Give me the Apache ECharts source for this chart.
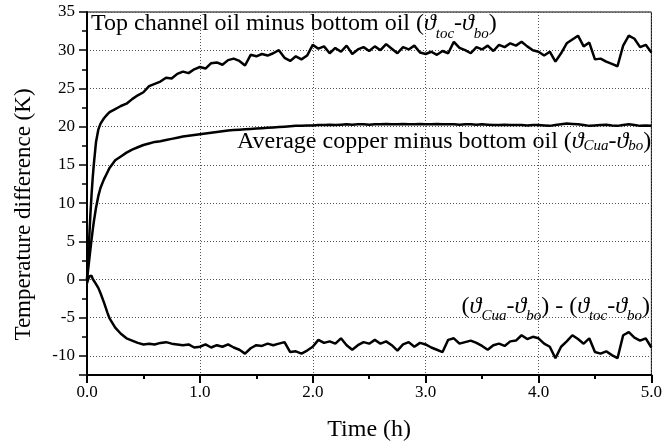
<!DOCTYPE html>
<html>
<head>
<meta charset="utf-8">
<script src="https://cdn.jsdelivr.net/npm/echarts@6/dist/echarts.min.js"></script>
<style>
  html, body { margin: 0; padding: 0; background: #fff; }
  #chart { width: 665px; height: 447px; }
</style>
</head>
<body>
<div id="chart"></div>
<script>
// Sample times (h)
const times = [
  0, 0.01, 0.02, 0.03, 0.04, 0.05, 0.06, 0.08, 0.10, 0.12, 0.15, 0.18, 0.20,
  0.25, 0.30, 0.35, 0.40, 0.45, 0.50, 0.55, 0.60, 0.65, 0.70, 0.75, 0.80, 0.85, 0.90, 0.95, 1.00,
  1.05, 1.10, 1.15, 1.20, 1.25, 1.30, 1.35, 1.40, 1.45, 1.50, 1.55, 1.60, 1.65, 1.70, 1.75, 1.80, 1.85, 1.90, 1.95, 2.00,
  2.05, 2.10, 2.15, 2.20, 2.25, 2.30, 2.35, 2.40, 2.45, 2.50, 2.55, 2.60, 2.65, 2.70, 2.75, 2.80, 2.85, 2.90, 2.95, 3.00,
  3.05, 3.10, 3.15, 3.20, 3.25, 3.30, 3.35, 3.40, 3.45, 3.50, 3.55, 3.60, 3.65, 3.70, 3.75, 3.80, 3.85, 3.90, 3.95, 4.00,
  4.05, 4.10, 4.15, 4.20, 4.25, 4.30, 4.35, 4.40, 4.45, 4.50, 4.55, 4.60, 4.65, 4.70, 4.75, 4.80, 4.85, 4.90, 4.95, 5.00
];

// Top channel oil minus bottom oil (K)
const topOilRise = [
  0, 2.5, 5.5, 8.5, 11.0, 13.2, 15.0, 18.0, 19.6, 20.4, 21.1, 21.6, 21.9,
  22.3, 22.7, 23.0, 23.6, 24.1, 24.5, 25.3, 25.6, 25.9, 26.4, 26.3, 26.9, 27.2, 27.0, 27.5, 27.8,
  27.6, 28.3, 28.4, 28.1, 28.7, 28.9, 28.6, 28.0, 29.4, 29.2, 29.5, 29.3, 29.6, 30.0, 29.0, 28.6, 29.2, 28.8, 29.3, 30.7,
  30.2, 30.5, 29.6, 30.3, 29.8, 30.6, 29.5, 30.1, 30.4, 29.9, 30.5, 30.0, 30.8, 30.2, 29.6, 30.4, 30.1, 30.6, 29.7, 29.5,
  29.8, 29.4, 29.9, 29.6, 31.1, 30.3, 30.0, 29.6, 30.4, 30.1, 30.6, 29.9, 30.7, 30.4, 30.9, 30.6, 31.1, 30.5, 30.0, 29.8,
  29.3, 29.8, 28.5, 29.6, 30.9, 31.4, 31.9, 30.5, 31.0, 28.8, 28.9, 28.5, 28.2, 27.9, 30.6, 31.9, 31.5, 30.4, 30.7, 29.7
];

// Average copper minus bottom oil (K)
const copperRise = [
  0, 1.3, 2.6, 3.9, 5.2, 6.4, 7.5, 9.4, 10.9, 12.0, 13.1, 14.0, 14.6,
  15.6, 16.1, 16.6, 17.0, 17.3, 17.6, 17.8, 18.0, 18.1, 18.25, 18.4, 18.55, 18.7, 18.8, 18.9, 19.0,
  19.1, 19.2, 19.3, 19.4, 19.5, 19.55, 19.6, 19.65, 19.7, 19.75, 19.8, 19.85, 19.9, 19.95, 20.0, 20.05, 20.1, 20.1, 20.15, 20.15,
  20.2, 20.2, 20.25, 20.2, 20.25, 20.3, 20.25, 20.3, 20.3, 20.25, 20.3, 20.3, 20.35, 20.3, 20.3, 20.35, 20.3, 20.3, 20.35, 20.3,
  20.3, 20.35, 20.3, 20.3, 20.3, 20.25, 20.3, 20.3, 20.25, 20.3, 20.25, 20.2, 20.2, 20.25, 20.2, 20.2, 20.2, 20.15, 20.2, 20.2,
  20.15, 20.1, 20.2, 20.3, 20.4, 20.35, 20.3, 20.2, 20.1, 20.15, 20.2, 20.25, 20.15, 20.1, 20.2, 20.3, 20.2, 20.1, 20.15, 20.1
];

// Copper rise minus top oil rise (K)
const copperMinusTop = [
  -0.5, 0.0, 0.4, 0.6, 0.5, 0.1, -0.1, -0.6, -1.1, -1.8, -3.0, -4.3, -5.1,
  -6.3, -7.1, -7.7, -8.0, -8.3, -8.5, -8.4, -8.5, -8.3, -8.2, -8.4, -8.5, -8.6, -8.5, -8.9, -8.8,
  -8.5, -8.9, -8.6, -8.8, -8.5, -8.9, -9.2, -9.7, -9.0, -8.6, -8.7, -8.4, -8.6, -8.4, -8.2, -9.5, -9.4, -9.7, -9.3, -8.8,
  -7.9, -8.3, -8.1, -8.4, -7.7, -8.6, -9.2, -8.6, -8.2, -8.4, -7.9, -8.4, -8.1, -8.6, -9.3, -8.5, -8.2, -8.8, -8.3, -8.5,
  -8.9, -9.2, -9.5, -7.9, -7.7, -8.4, -8.2, -8.0, -8.3, -8.7, -9.2, -8.6, -8.4, -8.7, -8.1, -8.0, -7.3, -7.8, -7.5, -7.7,
  -8.4, -8.8, -10.3, -8.8, -8.1, -7.3, -7.8, -8.4, -7.7, -9.5, -9.7, -9.4, -9.9, -10.3, -7.3, -6.9, -7.6, -8.0, -7.7, -8.9
];

// Axis ranges and steps
const xRange = [0, 5];
const xStep = 1;
const yRange = [-12.5, 35];
const yMinorStep = 2.5;
const yLabelStep = 5;

const SERIF = '"Liberation Serif", "Times New Roman", "DejaVu Serif", serif';

const pairs = arr => times.map((t, i) => [t, arr[i]]);

const curve = (name, arr) => ({
  name,
  type: 'line',
  data: pairs(arr),
  showSymbol: false,
  symbol: 'none',
  smooth: false,
  lineStyle: { color: '#000', width: 2.5 },
  z: 3
});

// Rich text styles for the annotation formulas
function richFor(subShift) {
  return {
    m: { fontFamily: SERIF, fontSize: 24, color: '#000', lineHeight: 28 },
    g: { fontFamily: SERIF, fontSize: 24, fontStyle: 'italic', color: '#000', lineHeight: 28 },
    s: { fontFamily: SERIF, fontSize: 15, fontStyle: 'italic', color: '#000', lineHeight: 15,
         padding: [subShift * 2, 0, 0, 0] }
  };
}

const chart = echarts.init(document.getElementById('chart'), null, { renderer: 'canvas' });

chart.setOption({
  animation: false,
  backgroundColor: '#fff',
  grid: {
    left: 87, right: 10, top: 12, bottom: 68.5,
    show: true, borderColor: '#000', borderWidth: 1, backgroundColor: 'transparent'
  },
  xAxis: {
    type: 'value',
    min: xRange[0], max: xRange[1], interval: xStep,
    name: 'Time (h)',
    nameLocation: 'middle',
    nameGap: 43,
    nameTextStyle: { fontFamily: SERIF, fontSize: 24, color: '#000' },
    axisLine: { show: true, onZero: false, lineStyle: { color: '#000', width: 2 } },
    axisTick: { show: true, inside: false, length: 8, lineStyle: { color: '#000', width: 2 } },
    minorTick: { show: true, splitNumber: 2, length: 4, lineStyle: { color: '#000', width: 2 } },
    axisLabel: {
      fontFamily: SERIF, fontSize: 17, color: '#000', margin: 9,
      formatter: v => v.toFixed(1)
    },
    splitLine: { show: true, lineStyle: { color: '#555', type: [1, 2], width: 1 } }
  },
  yAxis: [
    {
      type: 'value',
      position: 'left',
      min: yRange[0], max: yRange[1], splitNumber: 10,
      name: 'Temperature difference (K)',
      nameLocation: 'middle',
      nameGap: 52,
      nameRotate: 90,
      nameTextStyle: { fontFamily: SERIF, fontSize: 23, color: '#000', padding: [0, 42, 0, 0] },
      axisLine: { show: true, onZero: false, lineStyle: { color: '#000', width: 2 } },
      axisTick: { show: true, inside: false, length: 8, lineStyle: { color: '#000', width: 1.5 } },
      axisLabel: {
        fontFamily: SERIF, fontSize: 17, color: '#000', margin: 12,
        formatter: v => (Math.abs(v % yLabelStep) < 1e-9 ? String(v) : '')
      },
      splitLine: { show: true, lineStyle: { color: '#555', type: [1, 2], width: 1 } }
    },
    {
      // minor ticks every 2.5 K
      type: 'value',
      position: 'left',
      min: yRange[0], max: yRange[1], interval: yMinorStep,
      axisLine: { show: false },
      axisTick: { show: true, inside: false, length: 5, lineStyle: { color: '#000', width: 1.5 } },
      axisLabel: { show: false },
      splitLine: { show: false }
    }
  ],
  series: [
    curve('toc-bo', topOilRise),
    curve('Cua-bo', copperRise),
    curve('Cua-toc', copperMinusTop)
  ],
  graphic: [
    {
      type: 'text', x: 91, y: 24, z: 10,
      style: {
        text: '{m|Top channel oil minus bottom oil (}{g|ϑ}{s|toc}{m|-}{g|ϑ}{s|bo}{m|)}',
        align: 'left', verticalAlign: 'middle', rich: richFor(10)
      }
    },
    {
      type: 'text', x: 237, y: 142, z: 10,
      style: {
        text: '{m|Average copper minus bottom oil (}{g|ϑ}{s|Cua}{m|-}{g|ϑ}{s|bo}{m|)}',
        align: 'left', verticalAlign: 'middle', rich: richFor(4)
      }
    },
    {
      type: 'text', x: 650, y: 307, z: 10,
      style: {
        text: '{m|(}{g|ϑ}{s|Cua}{m|-}{g|ϑ}{s|bo}{m|) - (}{g|ϑ}{s|toc}{m|-}{g|ϑ}{s|bo}{m|)}',
        align: 'right', verticalAlign: 'middle', rich: richFor(9)
      }
    }
  ]
});
</script>
</body>
</html>
